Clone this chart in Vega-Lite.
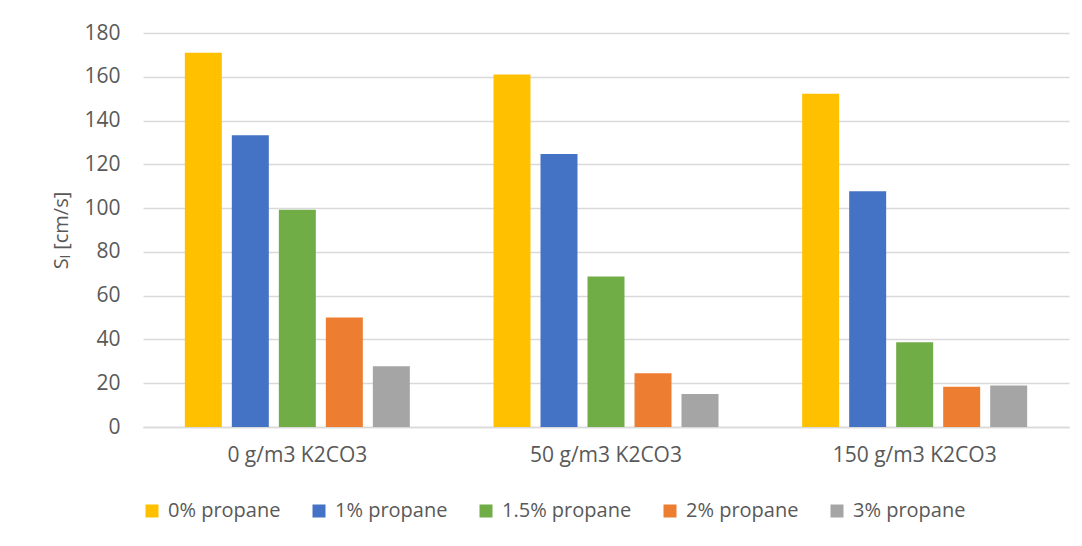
{
  "$schema": "https://vega.github.io/schema/vega-lite/v6.json",
  "width": 926,
  "height": 394,
  "autosize": {"type": "none"},
  "padding": {"left": 143, "top": 33, "right": 13, "bottom": 119},
  "background": "white",
  "data": {
    "values": [
      {"group": "0 g/m3 K2CO3", "series": "0% propane", "value": 171.0},
      {"group": "0 g/m3 K2CO3", "series": "1% propane", "value": 133.3},
      {"group": "0 g/m3 K2CO3", "series": "1.5% propane", "value": 99.3},
      {"group": "0 g/m3 K2CO3", "series": "2% propane", "value": 50.0},
      {"group": "0 g/m3 K2CO3", "series": "3% propane", "value": 27.7},
      {"group": "50 g/m3 K2CO3", "series": "0% propane", "value": 161.0},
      {"group": "50 g/m3 K2CO3", "series": "1% propane", "value": 124.7},
      {"group": "50 g/m3 K2CO3", "series": "1.5% propane", "value": 68.7},
      {"group": "50 g/m3 K2CO3", "series": "2% propane", "value": 24.5},
      {"group": "50 g/m3 K2CO3", "series": "3% propane", "value": 15.1},
      {"group": "150 g/m3 K2CO3", "series": "0% propane", "value": 152.3},
      {"group": "150 g/m3 K2CO3", "series": "1% propane", "value": 107.7},
      {"group": "150 g/m3 K2CO3", "series": "1.5% propane", "value": 38.7},
      {"group": "150 g/m3 K2CO3", "series": "2% propane", "value": 18.4},
      {"group": "150 g/m3 K2CO3", "series": "3% propane", "value": 19.0}
    ]
  },
  "mark": {"type": "bar"},
  "encoding": {
    "x": {
      "field": "group",
      "type": "nominal",
      "sort": ["0 g/m3 K2CO3", "50 g/m3 K2CO3", "150 g/m3 K2CO3"],
      "scale": {"paddingInner": 0, "paddingOuter": 0},
      "axis": {
        "title": null,
        "labelAngle": 0,
        "ticks": false,
        "labelPadding": 17,
        "labelFontSize": 21,
        "domainColor": "#D9D9D9",
        "domainWidth": 1.5
      }
    },
    "xOffset": {
      "field": "series",
      "type": "nominal",
      "sort": ["0% propane", "1% propane", "1.5% propane", "2% propane", "3% propane"],
      "scale": {"paddingInner": 0.213, "paddingOuter": 0.89}
    },
    "y": {
      "field": "value",
      "type": "quantitative",
      "scale": {"domain": [0, 180], "nice": false},
      "axis": {
        "title": "Sₗ [cm/s]",
        "values": [0, 20, 40, 60, 80, 100, 120, 140, 160, 180],
        "ticks": false,
        "domain": false,
        "labelPadding": 23,
        "labelFontSize": 21,
        "titlePadding": 12,
        "gridColor": "#D9D9D9",
        "gridWidth": 1.5
      }
    },
    "color": {
      "field": "series",
      "type": "nominal",
      "sort": ["0% propane", "1% propane", "1.5% propane", "2% propane", "3% propane"],
      "scale": {
        "domain": ["0% propane", "1% propane", "1.5% propane", "2% propane", "3% propane"],
        "range": ["#FFC000", "#4472C4", "#70AD47", "#ED7D31", "#A5A5A5"]
      },
      "legend": {
        "title": null,
        "orient": "none",
        "direction": "horizontal",
        "legendX": -1,
        "legendY": 468,
        "symbolType": "square",
        "symbolSize": 169,
        "symbolStrokeWidth": 0,
        "labelOffset": 6,
        "columnPadding": 28
      }
    }
  },
  "config": {
    "font": "Open Sans",
    "view": {"stroke": null},
    "axis": {
      "labelFont": "Open Sans",
      "labelFontSize": 20,
      "labelColor": "#595959",
      "titleFont": "Open Sans",
      "titleFontSize": 20,
      "titleFontWeight": "normal",
      "titleColor": "#595959"
    },
    "legend": {
      "labelFont": "Open Sans",
      "labelFontSize": 20,
      "labelColor": "#595959"
    }
  }
}
